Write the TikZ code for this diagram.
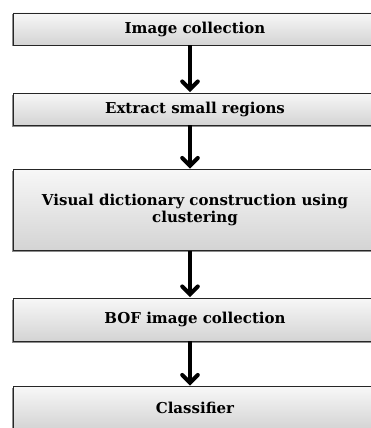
\documentclass[tikz,border=0pt]{standalone}
\usepackage{fontspec}
\setmainfont{DejaVu Serif}
\usetikzlibrary{arrows}
\usetikzlibrary{shadows}

\begin{document}
\begin{tikzpicture}[x=1pt,y=-1pt,>=angle 90,
    box node/.style={rectangle,draw=black!85,line width=0.9pt,top color=gray!6,bottom color=gray!34,
      minimum width=364pt,inner sep=2pt,align=center,font=\fontsize{15}{17}\selectfont\bfseries,
      drop shadow={shadow xshift=-1.2pt,shadow yshift=-1.5pt,opacity=0.45,fill=black}},
    flow/.style={->,line width=4pt,shorten >=0.5pt}]
   \clip (0,0) rectangle (371,428);
   \fill[white] (0,0) rectangle (371,428);
   \node[box node,minimum height=32pt] (collect) at (195,29) {Image collection};
   \node[box node,minimum height=32pt] (extract) at (195,109) {Extract small regions};
   \node[box node,minimum height=81pt] (dict) at (195,210) {Visual dictionary construction using\\clustering};
   \node[box node,minimum height=43pt] (bof) at (195,319.5) {BOF image collection};
   \node[box node,minimum height=43pt] (classify) at (195,408) {Classifier};
   \draw[flow] ([xshift=-5pt]collect.south) -- ([xshift=-5pt]extract.north);
   \draw[flow] ([xshift=-5pt]extract.south) -- ([xshift=-5pt]dict.north);
   \draw[flow] ([xshift=-5pt]dict.south) -- ([xshift=-5pt]bof.north);
   \draw[flow] ([xshift=-5pt]bof.south) -- ([xshift=-5pt]classify.north);
\end{tikzpicture}
\end{document}
